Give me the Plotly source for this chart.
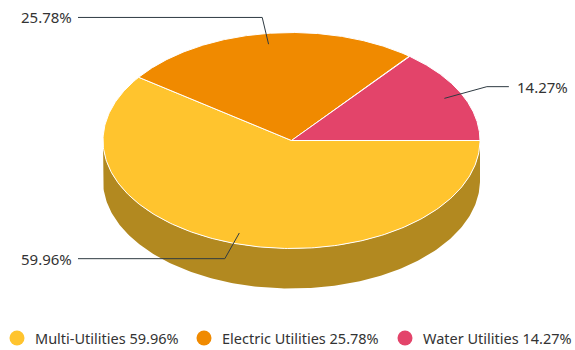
import numpy as np
import plotly.graph_objects as go

# Sector shares (percent)
categories = ["Multi-Utilities", "Electric Utilities", "Water Utilities"]
shares = [59.96, 25.78, 14.27]
top_colors = ["#FFC42E", "#F08A00", "#E3446A"]
legend_x = [17, 204, 405]          # legend symbol centres (px)

W, H = 575, 350
CX, CY = 291.5, 140.5              # centre of the top face
RX, RY = 188.5, 108.0              # radii of the top face
DEPTH = 40.0                       # cylinder thickness
FONT = "Noto Sans, Open Sans, sans-serif"
LABEL_SIZE = 15
LEGEND_SIZE = 14.5
TEXT_COLOR = "#333333"
LINE_COLOR = "#2E3A42"


def shade(hex_color, k=0.7):
    r, g, b = (int(hex_color[i:i + 2], 16) for i in (1, 3, 5))
    return f"rgb({int(r * k)},{int(g * k)},{int(b * k)})"


def pt(a_deg, r=1.0, dy=0.0):
    a = np.radians(a_deg)
    return CX + RX * r * np.cos(a), CY - RY * r * np.sin(a) + dy


# clockwise from 3 o'clock, in data order
total = sum(shares)
bounds = [0.0]
for v in shares:
    bounds.append(bounds[-1] - 360.0 * v / total)

fig = go.Figure()

# front wall of the cylinder (visible where the angle lies in [-180, 0])
for i, col in enumerate(top_colors):
    a0, a1 = bounds[i], bounds[i + 1]
    hi, lo = min(a0, 0.0), max(a1, -180.0)
    if hi <= lo:
        continue
    ang = np.linspace(hi, lo, 200)
    tx, ty = pt(ang)
    bx, by = pt(ang[::-1], dy=DEPTH)
    fig.add_trace(go.Scatter(
        x=np.concatenate([tx, bx]), y=np.concatenate([ty, by]),
        fill="toself", fillcolor=shade(col), mode="lines",
        line=dict(width=0, color=shade(col)), hoverinfo="skip", showlegend=False))

# top faces
for i, col in enumerate(top_colors):
    a0, a1 = bounds[i], bounds[i + 1]
    ang = np.linspace(a0, a1, 240)
    ex, ey = pt(ang)
    fig.add_trace(go.Scatter(
        x=np.concatenate([[CX], ex, [CX]]), y=np.concatenate([[CY], ey, [CY]]),
        fill="toself", fillcolor=col, mode="lines",
        line=dict(width=1, color="white"), hoverinfo="skip", showlegend=False,
        name=categories[i]))

# leader lines and value labels
annotations = []
for i, v in enumerate(shares):
    mid = (bounds[i] + bounds[i + 1]) / 2
    ax, ay = pt(mid, 0.9)
    kx, ky = pt(mid, 1.15)
    left = np.cos(np.radians(mid)) < 0
    endx = 78 if left else kx + 22
    fig.add_trace(go.Scatter(
        x=[ax, kx, endx], y=[ay, ky, ky], mode="lines",
        line=dict(width=1, color=LINE_COLOR), hoverinfo="skip", showlegend=False))
    annotations.append(dict(
        x=endx - 4 if left else endx + 6, y=ky, xref="x", yref="y",
        text=f"{v:.2f}%", showarrow=False,
        xanchor="right" if left else "left", yanchor="middle",
        font=dict(family=FONT, size=LABEL_SIZE, color=TEXT_COLOR)))

# legend row
LEG_Y = 338
fig.add_trace(go.Scatter(
    x=legend_x, y=[LEG_Y] * 3, mode="markers",
    marker=dict(symbol="circle", size=15, color=top_colors, line=dict(width=0)),
    hoverinfo="skip", showlegend=False))
for i, name in enumerate(categories):
    annotations.append(dict(
        x=legend_x[i] + 16, y=LEG_Y, xref="x", yref="y",
        text=f"{name} {shares[i]:.2f}%", showarrow=False,
        xanchor="left", yanchor="middle",
        font=dict(family=FONT, size=LEGEND_SIZE, color=TEXT_COLOR)))

fig.update_layout(
    width=W, height=H, margin=dict(l=0, r=0, t=0, b=0),
    paper_bgcolor="white", plot_bgcolor="white",
    xaxis=dict(range=[0, W], visible=False, fixedrange=True),
    yaxis=dict(range=[H, 0], visible=False, fixedrange=True),
    annotations=annotations, showlegend=False,
)

fig.write_html("out.html")
